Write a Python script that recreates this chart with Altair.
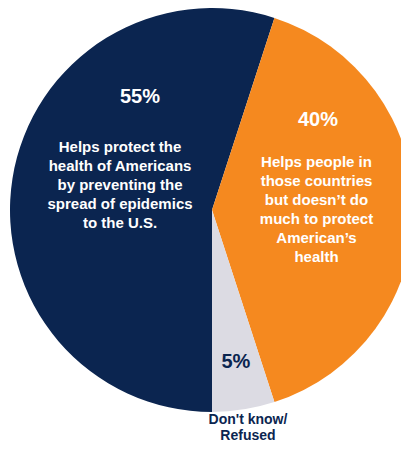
import altair as alt
import pandas as pd
import math

# ---- data ----
categories = [
    "Helps protect the health of Americans",
    "Helps people in those countries",
    "Don't know/Refused",
]
values = [55, 40, 5]
order = [0, 1, 2]
pct_labels = ["55%", "40%", "5%"]
descriptions = [
    "Helps protect the\nhealth of Americans\nby preventing the\nspread of epidemics\nto the U.S.",
    "Helps people in\nthose countries\nbut doesn\u2019t do\nmuch to protect\nAmerican\u2019s\nhealth",
    "Don't know/\nRefused",
]
colors = ["#0B2550", "#F5891F", "#DCDBE3"]

df = pd.DataFrame({
    "category": categories,
    "value": values,
    "order": order,
    "pct": pct_labels,
    "desc": descriptions,
})

CX, CY, R = 204, 202, 202
FONT = "Liberation Sans"

theta_scale = alt.Scale(domain=[0, 100], range=[math.pi, 3 * math.pi])

base = alt.Chart(df)

arcs = base.mark_arc(outerRadius=R, stroke=None).encode(
    theta=alt.Theta("value:Q", stack=True, scale=theta_scale),
    color=alt.Color("category:N", scale=alt.Scale(domain=categories, range=colors), legend=None),
    order=alt.Order("order:Q"),
    x=alt.value(CX),
    y=alt.value(CY),
)

positioned = base.transform_window(
    cum="sum(value)", sort=[alt.SortField("order")], frame=[None, 0]
).transform_calculate(mid="datum.cum - datum.value / 2")


def label(cat, field, radius, dy, size, color, line_height=19):
    return positioned.transform_filter(alt.datum.category == cat).mark_text(
        radius=radius, dy=dy, font=FONT, fontWeight="bold", fontSize=size,
        color=color, align="center", baseline="middle", lineBreak="\n",
        lineHeight=line_height,
    ).encode(
        theta=alt.Theta("mid:Q", stack=None, scale=theta_scale),
        text=alt.Text(f"{field}:N"),
        x=alt.value(CX),
        y=alt.value(CY),
    )


layers = [
    arcs,
    label(categories[0], "pct", 72.9, -102, 20, "white"),
    label(categories[0], "desc", 93.1, -48.4, 15, "white", 19),
    label(categories[1], "pct", 106, -90.5, 20, "white"),
    label(categories[1], "desc", 104.5, -48, 15, "white", 19),
    label(categories[2], "pct", 153, 1, 20, "#0B2550"),
    label(categories[2], "desc", 230, -17, 14, "#0B2550", 16),
]

chart = alt.layer(*layers).properties(
    width=393, height=437,
    autosize=alt.AutoSizeParams(type="none"),
    padding=0,
).configure_view(stroke=None)

chart.save("out.html", embed_options={"renderer": "svg", "actions": False})
